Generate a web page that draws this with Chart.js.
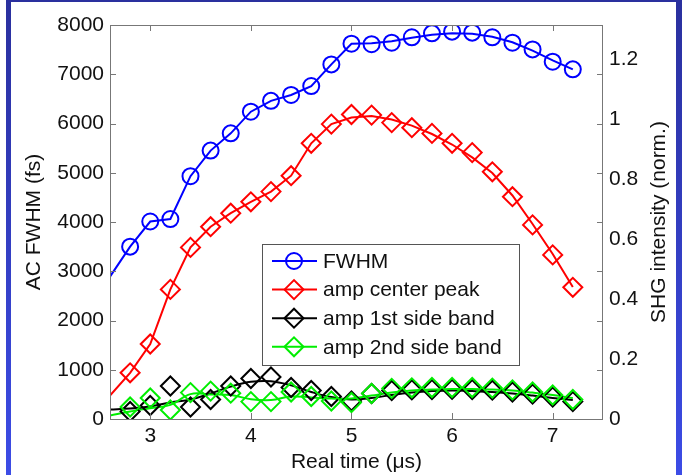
<!DOCTYPE html>
<html>
<head>
<meta charset="utf-8">
<script src="https://cdn.jsdelivr.net/npm/chart.js@4/dist/chart.umd.min.js"></script>
<style>
  html, body { margin: 0; padding: 0; background: #fff; }
  #wrap { width: 682px; height: 475px; position: relative; }
</style>
</head>
<body>
<div id="wrap"><canvas id="chart" width="682" height="475"></canvas></div>
<script>
// x positions (Real time, us)
const xMarkers = [2.8, 3.0, 3.2, 3.4, 3.6, 3.8, 4.0, 4.2, 4.4, 4.6, 4.8, 5.0, 5.2, 5.4, 5.6, 5.8, 6.0, 6.2, 6.4, 6.6, 6.8, 7.0, 7.2];
const xLine = [2.6, 2.8, 3.0, 3.2, 3.4, 3.6, 3.8, 4.0, 4.2, 4.4, 4.6, 4.8, 5.0, 5.2, 5.4, 5.6, 5.8, 6.0, 6.2, 6.4, 6.6, 6.8, 7.0, 7.2];
const xTicks = [3, 4, 5, 6, 7];
const yTicksRight = [0, 0.2, 0.4, 0.6, 0.8, 1.0, 1.2];

// FWHM (fs), left axis
const fwhmMarkers = [3500, 4010, 4060, 4930, 5450, 5800, 6240, 6460, 6580, 6760, 7200, 7620, 7610, 7640, 7750, 7830, 7865, 7845, 7750, 7640, 7505, 7255, 7100];
const fwhmLine = [2890, 3500, 4010, 4060, 4930, 5450, 5800, 6240, 6460, 6580, 6760, 7200, 7620, 7630, 7670, 7740, 7800, 7830, 7820, 7760, 7650, 7480, 7280, 7100];

// SHG intensity (norm.), right axis
const centerMarkers = [0.154, 0.25, 0.432, 0.572, 0.641, 0.686, 0.724, 0.758, 0.811, 0.919, 0.983, 1.015, 1.013, 0.988, 0.971, 0.952, 0.919, 0.888, 0.824, 0.741, 0.647, 0.547, 0.439];
const centerLine = [0.078, 0.154, 0.25, 0.432, 0.572, 0.641, 0.686, 0.724, 0.758, 0.811, 0.919, 0.983, 1.005, 1.01, 0.998, 0.978, 0.95, 0.915, 0.872, 0.82, 0.745, 0.65, 0.55, 0.44];

const side1Markers = [0.025, 0.045, 0.11, 0.04, 0.065, 0.11, 0.135, 0.14, 0.105, 0.095, 0.075, 0.06, 0.085, 0.095, 0.097, 0.098, 0.099, 0.098, 0.096, 0.09, 0.083, 0.073, 0.058];
const side1Line = [0.032, 0.035, 0.042, 0.055, 0.065, 0.085, 0.108, 0.124, 0.126, 0.112, 0.09, 0.073, 0.065, 0.07, 0.08, 0.088, 0.093, 0.095, 0.093, 0.09, 0.085, 0.078, 0.07, 0.063];

const side2Markers = [0.04, 0.07, 0.03, 0.088, 0.093, 0.086, 0.058, 0.058, 0.09, 0.075, 0.06, 0.055, 0.085, 0.102, 0.104, 0.105, 0.105, 0.105, 0.103, 0.097, 0.09, 0.08, 0.065];
const side2Line = [0.012, 0.025, 0.036, 0.047, 0.083, 0.082, 0.08, 0.066, 0.063, 0.075, 0.072, 0.068, 0.068, 0.078, 0.088, 0.095, 0.098, 0.1, 0.1, 0.098, 0.095, 0.088, 0.08, 0.07];

const seriesNames = ['FWHM', 'amp center peak', 'amp 1st side band', 'amp 2nd side band'];
const seriesColors = ['#0000ff', '#ff0000', '#000000', '#00ee00'];
const seriesShapes = ['circle', 'rectRot', 'rectRot', 'rectRot'];

const FONT = "'Liberation Sans', Arial, Helvetica, sans-serif";
const pairs = (xs, ys) => xs.map((x, i) => ({ x: x, y: ys[i] }));

function lineSet(ys, color, axis, order, tension) {
  return {
    data: pairs(xLine, ys), yAxisID: axis, order: order,
    borderColor: color, borderWidth: 2, pointRadius: 0, tension: tension, fill: false
  };
}
function markerSet(ys, color, axis, order, shape) {
  return {
    data: pairs(xMarkers, ys), yAxisID: axis, order: order, showLine: false,
    pointStyle: shape, pointRadius: shape === 'circle' ? 8 : 9.5,
    pointBorderWidth: 2, pointBorderColor: color, pointBackgroundColor: 'rgba(0,0,0,0)'
  };
}

// inward tick marks, box, right label and legend like the matlab figure
const decorPlugin = {
  id: 'decor',
  beforeDraw(chart) {
    const ctx = chart.ctx;
    ctx.save();
    ctx.fillStyle = '#ffffff';
    ctx.fillRect(0, 0, chart.width, chart.height);
    const g = ctx.createLinearGradient(0, 0, 0, chart.height);
    g.addColorStop(0, '#2a309e');
    g.addColorStop(1, '#3c4ce6');
    ctx.fillStyle = g;
    ctx.fillRect(6, 0, 5, chart.height);
    ctx.fillRect(676, 0, 6, chart.height);
    ctx.fillStyle = '#2a309e';
    ctx.fillRect(6, 0, 676, 2);
    ctx.restore();
  },
  afterDraw(chart) {
    const ctx = chart.ctx;
    const a = chart.chartArea;
    const sx = chart.scales.x, sy = chart.scales.y;
    ctx.save();
    ctx.strokeStyle = '#777';
    ctx.lineWidth = 1;
    ctx.strokeRect(a.left + 0.5, a.top + 0.5, a.right - a.left - 1, a.bottom - a.top);
    ctx.beginPath();
    xTicks.forEach(v => {
      const px = Math.round(sx.getPixelForValue(v)) + 0.5;
      ctx.moveTo(px, a.bottom); ctx.lineTo(px, a.bottom - 6);
      ctx.moveTo(px, a.top); ctx.lineTo(px, a.top + 6);
    });
    sy.ticks.forEach(t => {
      const py = Math.round(sy.getPixelForValue(t.value)) + 0.5;
      ctx.moveTo(a.left, py); ctx.lineTo(a.left + 6, py);
      ctx.moveTo(a.right, py); ctx.lineTo(a.right - 6, py);
    });
    ctx.stroke();

    // right axis title, reads bottom to top
    ctx.fillStyle = '#111';
    ctx.font = '21px ' + FONT;
    ctx.textAlign = 'center';
    ctx.textBaseline = 'middle';
    ctx.translate(659, (a.top + a.bottom) / 2);
    ctx.rotate(-Math.PI / 2);
    ctx.fillText('SHG intensity (norm.)', 0, 0);
    ctx.restore();

    // legend box
    ctx.save();
    const bx = 262, by = 244, bw = 257, bh = 121;
    ctx.fillStyle = '#fff';
    ctx.fillRect(bx, by, bw, bh);
    ctx.strokeStyle = '#555';
    ctx.lineWidth = 1;
    ctx.strokeRect(bx + 0.5, by + 0.5, bw, bh);
    ctx.font = '21px ' + FONT;
    ctx.textBaseline = 'middle';
    ctx.textAlign = 'left';
    seriesNames.forEach((name, i) => {
      const y = 261 + i * 28.6;
      ctx.strokeStyle = seriesColors[i];
      ctx.lineWidth = 2;
      ctx.beginPath();
      ctx.moveTo(272, y); ctx.lineTo(317, y);
      ctx.stroke();
      ctx.beginPath();
      if (seriesShapes[i] === 'circle') {
        ctx.arc(294, y, 8, 0, Math.PI * 2);
      } else {
        const r = 9.5;
        ctx.moveTo(294 - r, y); ctx.lineTo(294, y - r); ctx.lineTo(294 + r, y); ctx.lineTo(294, y + r); ctx.closePath();
      }
      ctx.stroke();
      ctx.fillStyle = '#111';
      ctx.fillText(name, 323, y + 1);
    });
    ctx.restore();
  }
};

const tickFont = { family: FONT, size: 21 };

new Chart(document.getElementById('chart'), {
  type: 'line',
  data: {
    datasets: [
      lineSet(fwhmLine, seriesColors[0], 'y', 8, 0),
      markerSet(fwhmMarkers, seriesColors[0], 'y', 7, 'circle'),
      lineSet(centerLine, seriesColors[1], 'y2', 6, 0),
      markerSet(centerMarkers, seriesColors[1], 'y2', 5, 'rectRot'),
      lineSet(side1Line, seriesColors[2], 'y2', 4, 0.4),
      markerSet(side1Markers, seriesColors[2], 'y2', 2, 'rectRot'),
      lineSet(side2Line, seriesColors[3], 'y2', 3, 0.4),
      markerSet(side2Markers, seriesColors[3], 'y2', 1, 'rectRot')
    ]
  },
  options: {
    responsive: false,
    animation: false,
    layout: { padding: { top: 25, left: 0, right: 0, bottom: 0 } },
    plugins: { legend: { display: false }, tooltip: { enabled: false } },
    scales: {
      x: {
        type: 'linear', min: 2.6, max: 7.5,
        afterBuildTicks: s => { s.ticks = xTicks.map(v => ({ value: v })); },
        afterFit: s => { s.height = 56; },
        grid: { display: false, drawTicks: false },
        border: { display: false },
        ticks: { font: tickFont, color: '#111', padding: 5, maxRotation: 0 },
        title: { display: true, text: 'Real time (\u03bcs)', font: tickFont, color: '#111', padding: { top: 0, bottom: 0 } }
      },
      y: {
        position: 'left', min: 0, max: 8000,
        afterFit: s => { s.width = 110; },
        grid: { display: false, drawTicks: false },
        border: { display: false },
        ticks: { font: tickFont, color: '#111', padding: 6, stepSize: 1000, callback: v => String(v) },
        title: { display: true, text: 'AC FWHM (fs)', font: tickFont, color: '#111', padding: { top: 22, bottom: 0 } }
      },
      y2: {
        position: 'right', min: 0, max: 1.3133,
        afterBuildTicks: s => { s.ticks = yTicksRight.map(v => ({ value: v })); },
        afterFit: s => { s.width = 79; },
        grid: { display: false, drawTicks: false },
        border: { display: false },
        ticks: { font: tickFont, color: '#111', padding: 6, callback: v => String(+v.toFixed(1)) }
      }
    }
  },
  plugins: [decorPlugin]
});
</script>
</body>
</html>
